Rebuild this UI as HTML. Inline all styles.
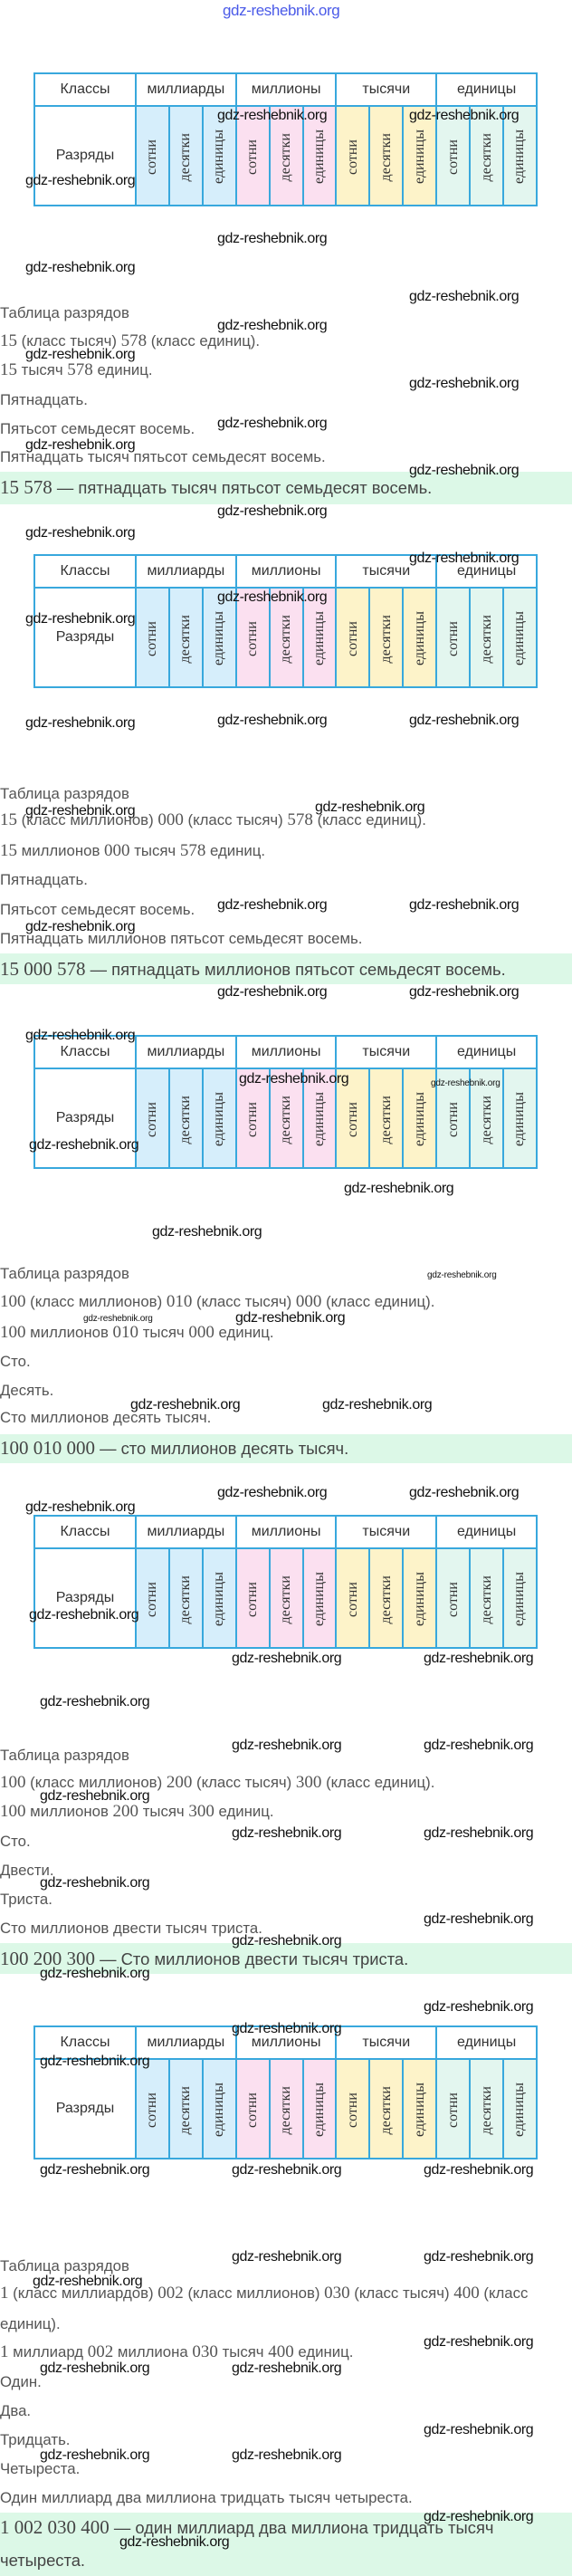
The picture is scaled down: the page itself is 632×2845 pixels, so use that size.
<!DOCTYPE html>
<html><head><meta charset="utf-8">
<style>
html,body{margin:0;padding:0;background:#fff;}
body{width:632px;height:2845px;position:relative;overflow:hidden;font-family:"Liberation Sans",sans-serif;}
.t{position:absolute;left:37px;width:557px;border-collapse:collapse;table-layout:fixed;}
.t td{border:2px solid #38a8dd;padding:0;text-align:center;color:#333;}
.t tr.h td{height:34px;font-size:16px;background:#fff;}
.t tr.d td{height:108px;}
.t td.c{font-size:16px;background:#fff;}
.v{display:inline-block;writing-mode:vertical-rl;transform:rotate(180deg);font-family:"Liberation Serif",serif;font-size:16px;color:#333;margin-top:8px;}
.b{background:#d6eefb;}.p{background:#fbe0f0;}.y{background:#fdf3c9;}.m{background:#e3f6ef;}
.l{position:absolute;left:0;font-size:16.8px;line-height:20px;color:#555;white-space:nowrap;}
.l i{font-style:normal;font-family:"Liberation Serif",serif;font-size:19px;}
.g{position:absolute;left:0;width:632px;background:#dcf8e7;}
.g .l{font-size:18.4px;color:#444;}
.g .l i{font-size:21px;}
.w{position:absolute;font-size:16px;line-height:18px;color:#111;letter-spacing:-0.4px;white-space:nowrap;}
.ws{font-size:10px;letter-spacing:-0.2px;}
</style></head><body>

<div class="w" style="left:246px;top:3px;color:#4a5ae8;font-size:17px;">gdz-reshebnik.org</div>

<div class="g" style="top:521px;height:36px;"></div>
<div class="g" style="top:1053px;height:34px;"></div>
<div class="g" style="top:1584px;height:32px;"></div>
<div class="g" style="top:2146px;height:34px;"></div>
<div class="g" style="top:2775px;height:70px;"></div>

<table class="t" style="top:80px;"><colgroup><col style="width:112px"><col><col><col><col><col><col><col><col><col><col><col><col></colgroup>
<tr class="h"><td class="c">Классы</td><td colspan="3">миллиарды</td><td colspan="3">миллионы</td><td colspan="3">тысячи</td><td colspan="3">единицы</td></tr>
<tr class="d"><td class="c">Разряды</td><td class="b"><span class="v">сотни</span></td><td class="b"><span class="v">десятки</span></td><td class="b"><span class="v">единицы</span></td><td class="p"><span class="v">сотни</span></td><td class="p"><span class="v">десятки</span></td><td class="p"><span class="v">единицы</span></td><td class="y"><span class="v">сотни</span></td><td class="y"><span class="v">десятки</span></td><td class="y"><span class="v">единицы</span></td><td class="m"><span class="v">сотни</span></td><td class="m"><span class="v">десятки</span></td><td class="m"><span class="v">единицы</span></td></tr></table>

<table class="t" style="top:612px;"><colgroup><col style="width:112px"><col><col><col><col><col><col><col><col><col><col><col><col></colgroup>
<tr class="h"><td class="c">Классы</td><td colspan="3">миллиарды</td><td colspan="3">миллионы</td><td colspan="3">тысячи</td><td colspan="3">единицы</td></tr>
<tr class="d"><td class="c">Разряды</td><td class="b"><span class="v">сотни</span></td><td class="b"><span class="v">десятки</span></td><td class="b"><span class="v">единицы</span></td><td class="p"><span class="v">сотни</span></td><td class="p"><span class="v">десятки</span></td><td class="p"><span class="v">единицы</span></td><td class="y"><span class="v">сотни</span></td><td class="y"><span class="v">десятки</span></td><td class="y"><span class="v">единицы</span></td><td class="m"><span class="v">сотни</span></td><td class="m"><span class="v">десятки</span></td><td class="m"><span class="v">единицы</span></td></tr></table>

<table class="t" style="top:1143px;"><colgroup><col style="width:112px"><col><col><col><col><col><col><col><col><col><col><col><col></colgroup>
<tr class="h"><td class="c">Классы</td><td colspan="3">миллиарды</td><td colspan="3">миллионы</td><td colspan="3">тысячи</td><td colspan="3">единицы</td></tr>
<tr class="d"><td class="c">Разряды</td><td class="b"><span class="v">сотни</span></td><td class="b"><span class="v">десятки</span></td><td class="b"><span class="v">единицы</span></td><td class="p"><span class="v">сотни</span></td><td class="p"><span class="v">десятки</span></td><td class="p"><span class="v">единицы</span></td><td class="y"><span class="v">сотни</span></td><td class="y"><span class="v">десятки</span></td><td class="y"><span class="v">единицы</span></td><td class="m"><span class="v">сотни</span></td><td class="m"><span class="v">десятки</span></td><td class="m"><span class="v">единицы</span></td></tr></table>

<table class="t" style="top:1673px;"><colgroup><col style="width:112px"><col><col><col><col><col><col><col><col><col><col><col><col></colgroup>
<tr class="h"><td class="c">Классы</td><td colspan="3">миллиарды</td><td colspan="3">миллионы</td><td colspan="3">тысячи</td><td colspan="3">единицы</td></tr>
<tr class="d"><td class="c">Разряды</td><td class="b"><span class="v">сотни</span></td><td class="b"><span class="v">десятки</span></td><td class="b"><span class="v">единицы</span></td><td class="p"><span class="v">сотни</span></td><td class="p"><span class="v">десятки</span></td><td class="p"><span class="v">единицы</span></td><td class="y"><span class="v">сотни</span></td><td class="y"><span class="v">десятки</span></td><td class="y"><span class="v">единицы</span></td><td class="m"><span class="v">сотни</span></td><td class="m"><span class="v">десятки</span></td><td class="m"><span class="v">единицы</span></td></tr></table>

<table class="t" style="top:2237px;"><colgroup><col style="width:112px"><col><col><col><col><col><col><col><col><col><col><col><col></colgroup>
<tr class="h"><td class="c">Классы</td><td colspan="3">миллиарды</td><td colspan="3">миллионы</td><td colspan="3">тысячи</td><td colspan="3">единицы</td></tr>
<tr class="d"><td class="c">Разряды</td><td class="b"><span class="v">сотни</span></td><td class="b"><span class="v">десятки</span></td><td class="b"><span class="v">единицы</span></td><td class="p"><span class="v">сотни</span></td><td class="p"><span class="v">десятки</span></td><td class="p"><span class="v">единицы</span></td><td class="y"><span class="v">сотни</span></td><td class="y"><span class="v">десятки</span></td><td class="y"><span class="v">единицы</span></td><td class="m"><span class="v">сотни</span></td><td class="m"><span class="v">десятки</span></td><td class="m"><span class="v">единицы</span></td></tr></table>

<div class="l" style="top:336px;">Таблица разрядов</div>
<div class="l" style="top:367px;"><i>15</i> (класс тысяч) <i>578</i> (класс единиц).</div>
<div class="l" style="top:399px;"><i>15</i> тысяч <i>578</i> единиц.</div>
<div class="l" style="top:432px;">Пятнадцать.</div>
<div class="l" style="top:464px;">Пятьсот семьдесят восемь.</div>
<div class="l" style="top:495px;">Пятнадцать тысяч пятьсот семьдесят восемь.</div>
<div class="g" style="top:528px;height:0;"><div class="l" style="top:0;"><i>15 578</i> — пятнадцать тысяч пятьсот семьдесят восемь.</div></div>

<div class="l" style="top:867px;">Таблица разрядов</div>
<div class="l" style="top:896px;"><i>15</i> (класс миллионов) <i>000</i> (класс тысяч) <i>578</i> (класс единиц).</div>
<div class="l" style="top:930px;"><i>15</i> миллионов <i>000</i> тысяч <i>578</i> единиц.</div>
<div class="l" style="top:962px;">Пятнадцать.</div>
<div class="l" style="top:995px;">Пятьсот семьдесят восемь.</div>
<div class="l" style="top:1027px;">Пятнадцать миллионов пятьсот семьдесят восемь.</div>
<div class="g" style="top:1060px;height:0;"><div class="l" style="top:0;"><i>15 000 578</i> — пятнадцать миллионов пятьсот семьдесят восемь.</div></div>

<div class="l" style="top:1397px;">Таблица разрядов</div>
<div class="l" style="top:1428px;"><i>100</i> (класс миллионов) <i>010</i> (класс тысяч) <i>000</i> (класс единиц).</div>
<div class="l" style="top:1462px;"><i>100</i> миллионов <i>010</i> тысяч <i>000</i> единиц.</div>
<div class="l" style="top:1494px;">Сто.</div>
<div class="l" style="top:1526px;">Десять.</div>
<div class="l" style="top:1556px;">Сто миллионов десять тысяч.</div>
<div class="g" style="top:1589px;height:0;"><div class="l" style="top:0;"><i>100 010 000</i> — сто миллионов десять тысяч.</div></div>

<div class="l" style="top:1929px;">Таблица разрядов</div>
<div class="l" style="top:1959px;"><i>100</i> (класс миллионов) <i>200</i> (класс тысяч) <i>300</i> (класс единиц).</div>
<div class="l" style="top:1991px;"><i>100</i> миллионов <i>200</i> тысяч <i>300</i> единиц.</div>
<div class="l" style="top:2024px;">Сто.</div>
<div class="l" style="top:2056px;">Двести.</div>
<div class="l" style="top:2088px;">Триста.</div>
<div class="l" style="top:2120px;">Сто миллионов двести тысяч триста.</div>
<div class="g" style="top:2153px;height:0;"><div class="l" style="top:0;"><i>100 200 300</i> — Сто миллионов двести тысяч триста.</div></div>

<div class="l" style="top:2493px;">Таблица разрядов</div>
<div class="l" style="top:2523px;"><i>1</i> (класс миллиардов) <i>002</i> (класс миллионов) <i>030</i> (класс тысяч) <i>400</i> (класс</div>
<div class="l" style="top:2557px;">единиц).</div>
<div class="l" style="top:2588px;"><i>1</i> миллиард <i>002</i> миллиона <i>030</i> тысяч <i>400</i> единиц.</div>
<div class="l" style="top:2621px;">Один.</div>
<div class="l" style="top:2653px;">Два.</div>
<div class="l" style="top:2685px;">Тридцать.</div>
<div class="l" style="top:2717px;">Четыреста.</div>
<div class="l" style="top:2749px;">Один миллиард два миллиона тридцать тысяч четыреста.</div>
<div class="g" style="top:2781px;height:0;"><div class="l" style="top:0;"><i>1 002 030 400</i> — один миллиард два миллиона тридцать тысяч</div><div class="l" style="top:37px;">четыреста.</div></div>

<div class="w" style="left:240px;top:119px;">gdz-reshebnik.org</div>
<div class="w" style="left:452px;top:119px;">gdz-reshebnik.org</div>
<div class="w" style="left:28px;top:191px;">gdz-reshebnik.org</div>
<div class="w" style="left:240px;top:255px;">gdz-reshebnik.org</div>
<div class="w" style="left:28px;top:287px;">gdz-reshebnik.org</div>
<div class="w" style="left:452px;top:319px;">gdz-reshebnik.org</div>
<div class="w" style="left:240px;top:351px;">gdz-reshebnik.org</div>
<div class="w" style="left:28px;top:383px;">gdz-reshebnik.org</div>
<div class="w" style="left:452px;top:415px;">gdz-reshebnik.org</div>
<div class="w" style="left:240px;top:459px;">gdz-reshebnik.org</div>
<div class="w" style="left:28px;top:483px;">gdz-reshebnik.org</div>
<div class="w" style="left:452px;top:511px;">gdz-reshebnik.org</div>

<div class="w" style="left:240px;top:556px;">gdz-reshebnik.org</div>
<div class="w" style="left:28px;top:580px;">gdz-reshebnik.org</div>
<div class="w" style="left:452px;top:608px;">gdz-reshebnik.org</div>
<div class="w" style="left:240px;top:651px;">gdz-reshebnik.org</div>
<div class="w" style="left:28px;top:675px;">gdz-reshebnik.org</div>
<div class="w" style="left:28px;top:790px;">gdz-reshebnik.org</div>
<div class="w" style="left:240px;top:787px;">gdz-reshebnik.org</div>
<div class="w" style="left:452px;top:787px;">gdz-reshebnik.org</div>
<div class="w" style="left:28px;top:887px;">gdz-reshebnik.org</div>
<div class="w" style="left:348px;top:883px;">gdz-reshebnik.org</div>
<div class="w" style="left:240px;top:991px;">gdz-reshebnik.org</div>
<div class="w" style="left:452px;top:991px;">gdz-reshebnik.org</div>
<div class="w" style="left:28px;top:1015px;">gdz-reshebnik.org</div>
<div class="w" style="left:240px;top:1087px;">gdz-reshebnik.org</div>
<div class="w" style="left:452px;top:1087px;">gdz-reshebnik.org</div>

<div class="w" style="left:28px;top:1135px;">gdz-reshebnik.org</div>
<div class="w" style="left:264px;top:1183px;">gdz-reshebnik.org</div>
<div class="w ws" style="left:476px;top:1188px;">gdz-reshebnik.org</div>
<div class="w" style="left:32px;top:1256px;">gdz-reshebnik.org</div>
<div class="w" style="left:380px;top:1304px;">gdz-reshebnik.org</div>
<div class="w" style="left:168px;top:1352px;">gdz-reshebnik.org</div>
<div class="w ws" style="left:472px;top:1400px;">gdz-reshebnik.org</div>
<div class="w ws" style="left:92px;top:1448px;">gdz-reshebnik.org</div>
<div class="w" style="left:260px;top:1447px;">gdz-reshebnik.org</div>
<div class="w" style="left:144px;top:1543px;">gdz-reshebnik.org</div>
<div class="w" style="left:356px;top:1543px;">gdz-reshebnik.org</div>
<div class="w" style="left:240px;top:1640px;">gdz-reshebnik.org</div>
<div class="w" style="left:452px;top:1640px;">gdz-reshebnik.org</div>
<div class="w" style="left:28px;top:1656px;">gdz-reshebnik.org</div>

<div class="w" style="left:32px;top:1775px;">gdz-reshebnik.org</div>
<div class="w" style="left:256px;top:1823px;">gdz-reshebnik.org</div>
<div class="w" style="left:468px;top:1823px;">gdz-reshebnik.org</div>
<div class="w" style="left:44px;top:1871px;">gdz-reshebnik.org</div>
<div class="w" style="left:256px;top:1919px;">gdz-reshebnik.org</div>
<div class="w" style="left:468px;top:1919px;">gdz-reshebnik.org</div>
<div class="w" style="left:44px;top:1975px;">gdz-reshebnik.org</div>
<div class="w" style="left:256px;top:2016px;">gdz-reshebnik.org</div>
<div class="w" style="left:468px;top:2016px;">gdz-reshebnik.org</div>
<div class="w" style="left:44px;top:2071px;">gdz-reshebnik.org</div>
<div class="w" style="left:468px;top:2111px;">gdz-reshebnik.org</div>
<div class="w" style="left:256px;top:2135px;">gdz-reshebnik.org</div>
<div class="w" style="left:44px;top:2171px;">gdz-reshebnik.org</div>
<div class="w" style="left:468px;top:2208px;">gdz-reshebnik.org</div>
<div class="w" style="left:256px;top:2232px;">gdz-reshebnik.org</div>
<div class="w" style="left:44px;top:2268px;">gdz-reshebnik.org</div>
<div class="w" style="left:44px;top:2388px;">gdz-reshebnik.org</div>
<div class="w" style="left:256px;top:2388px;">gdz-reshebnik.org</div>
<div class="w" style="left:468px;top:2388px;">gdz-reshebnik.org</div>

<div class="w" style="left:256px;top:2484px;">gdz-reshebnik.org</div>
<div class="w" style="left:468px;top:2484px;">gdz-reshebnik.org</div>
<div class="w" style="left:36px;top:2511px;">gdz-reshebnik.org</div>
<div class="w" style="left:468px;top:2578px;">gdz-reshebnik.org</div>
<div class="w" style="left:44px;top:2607px;">gdz-reshebnik.org</div>
<div class="w" style="left:256px;top:2607px;">gdz-reshebnik.org</div>
<div class="w" style="left:468px;top:2675px;">gdz-reshebnik.org</div>
<div class="w" style="left:44px;top:2703px;">gdz-reshebnik.org</div>
<div class="w" style="left:256px;top:2703px;">gdz-reshebnik.org</div>
<div class="w" style="left:468px;top:2771px;">gdz-reshebnik.org</div>
<div class="w" style="left:132px;top:2799px;">gdz-reshebnik.org</div>

</body></html>
